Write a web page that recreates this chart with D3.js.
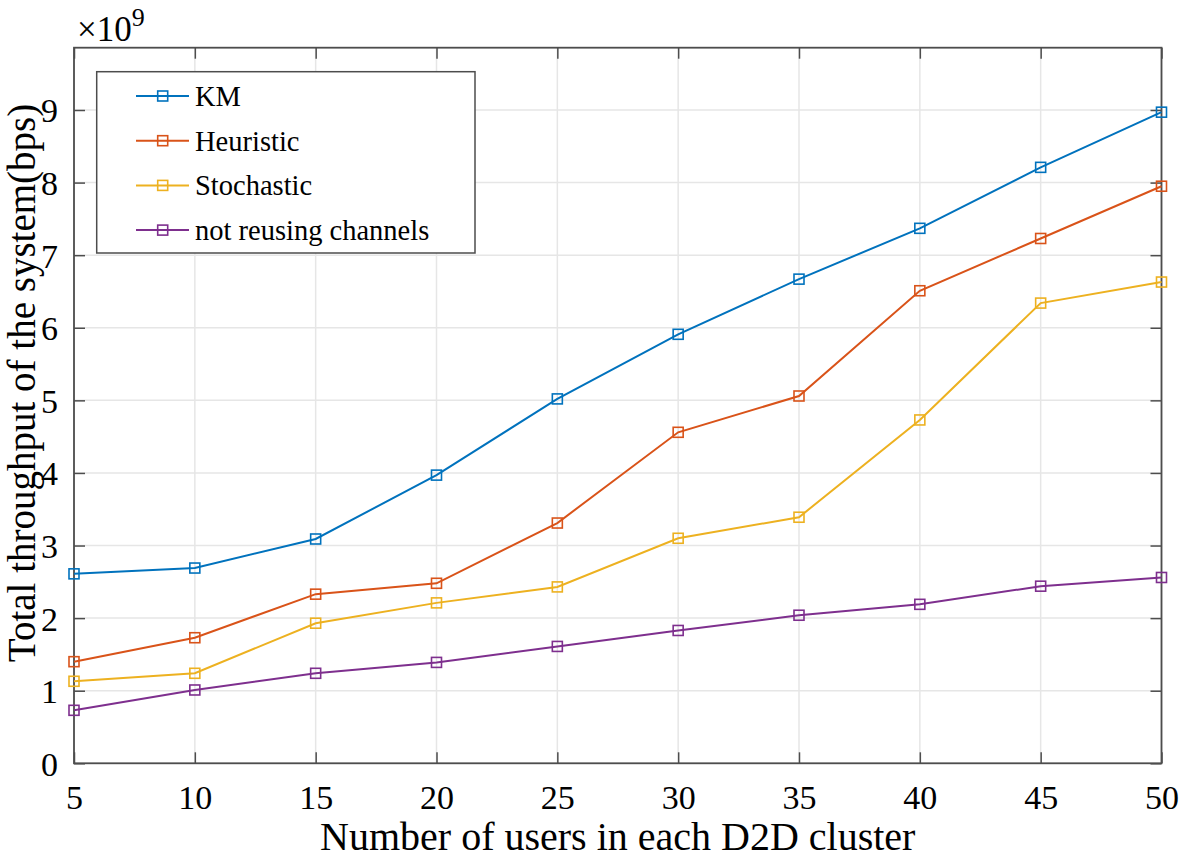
<!DOCTYPE html>
<html><head><meta charset="utf-8">
<script src="https://cdn.jsdelivr.net/npm/d3@7"></script>
<style>body{margin:0;background:#fff;} text{font-family:"Liberation Serif","Times New Roman",serif;fill:#000;}</style>
</head><body>
<svg id="c" width="1181" height="859"></svg>
<script>
const xValues = [5,10,15,20,25,30,35,40,45,50];
const kmValues = [2.61,2.69,3.09,3.97,5.02,5.91,6.67,7.37,8.21,8.97];
const heuristicValues = [1.40,1.73,2.33,2.48,3.31,4.56,5.06,6.51,7.23,7.95];
const stochasticValues = [1.13,1.24,1.93,2.21,2.43,3.10,3.39,4.73,6.34,6.63];
const notReusingValues = [0.73,1.01,1.24,1.39,1.61,1.83,2.04,2.19,2.44,2.56];
const seriesNames = ["KM","Heuristic","Stochastic","not reusing channels"];
const seriesColors = ["#0072BD","#D95319","#EDB120","#7E2F8E"];
const xTicks = [5,10,15,20,25,30,35,40,45,50];
const yTicks = [0,1,2,3,4,5,6,7,8,9];

const svg = d3.select("#c");
const FF = "Liberation Serif, Times New Roman, serif";
const L=74, R=1161.5, T=47.7, B=763.3;
const x = d3.scaleLinear().domain([5,50]).range([L,R]);
const y = d3.scaleLinear().domain([0,9]).range([B,110]);

// grid
const g = svg.append("g");
g.selectAll(".vg").data(xTicks).join("line").attr("x1",d=>x(d)).attr("x2",d=>x(d)).attr("y1",T).attr("y2",B).attr("stroke","#e6e6e6").attr("stroke-width",1.5);
g.selectAll(".hg").data(yTicks).join("line").attr("x1",L).attr("x2",R).attr("y1",d=>y(d)).attr("y2",d=>y(d)).attr("stroke","#e6e6e6").attr("stroke-width",1.5);

// axes with inward ticks
const axCol="#4d4d4d";
const xAxis = d3.axisBottom(x).tickValues(xTicks).tickSizeInner(-11).tickSizeOuter(0).tickPadding(22);
const yAxis = d3.axisLeft(y).tickValues(yTicks).tickSizeInner(-11).tickSizeOuter(0).tickPadding(16);
const gx = svg.append("g").attr("transform",`translate(0,${B})`).call(xAxis);
const gy = svg.append("g").attr("transform",`translate(${L},0)`).call(yAxis);
const gxt = svg.append("g").attr("transform",`translate(0,${T})`).call(d3.axisTop(x).tickValues(xTicks).tickSizeInner(-11).tickSizeOuter(0).tickFormat(""));
const gyr = svg.append("g").attr("transform",`translate(${R},0)`).call(d3.axisRight(y).tickValues(yTicks).tickSizeInner(-11).tickSizeOuter(0).tickFormat(""));
[gx,gy,gxt,gyr].forEach(a=>{a.attr("font-family",FF);a.select(".domain").remove();a.selectAll("line").attr("stroke",axCol).attr("stroke-width",1.5);});
gx.selectAll("text").attr("font-size",34).attr("dy","0.71em").attr("font-family",FF);
gy.selectAll("text").attr("font-size",34).attr("dy","0.35em").attr("font-family",FF);
svg.append("rect").attr("x",L).attr("y",T).attr("width",R-L).attr("height",B-T).attr("fill","none").attr("stroke",axCol).attr("stroke-width",1.8);

// series
const allValues=[kmValues,heuristicValues,stochasticValues,notReusingValues];
const line = d3.line().x((d,i)=>x(xValues[i])).y(d=>y(d));
const ms=10;
allValues.forEach((vals,k)=>{
  svg.append("path").datum(vals).attr("d",line).attr("fill","none").attr("stroke",seriesColors[k]).attr("stroke-width",2);
  svg.selectAll(null).data(vals).join("rect").attr("x",(d,i)=>x(xValues[i])-ms/2).attr("y",d=>y(d)-ms/2).attr("width",ms).attr("height",ms).attr("fill","none").attr("stroke",seriesColors[k]).attr("stroke-width",1.6);
});

// legend
const lg = svg.append("g");
lg.append("rect").attr("x",96.7).attr("y",71.7).attr("width",378.3).attr("height",181.3).attr("fill","#fff").attr("stroke",axCol).attr("stroke-width",1.5);
seriesNames.forEach((n,k)=>{
  const yy = 96 + k*44.7;
  lg.append("line").attr("x1",136).attr("x2",189).attr("y1",yy).attr("y2",yy).attr("stroke",seriesColors[k]).attr("stroke-width",2);
  lg.append("rect").attr("x",162.7-ms/2).attr("y",yy-ms/2).attr("width",ms).attr("height",ms).attr("fill","none").attr("stroke",seriesColors[k]).attr("stroke-width",1.6);
  lg.append("text").attr("x",195).attr("y",yy).attr("dy","0.35em").attr("font-size",28.5).attr("font-family",FF).text(n);
});

// labels
svg.append("text").attr("x",(L+R)/2).attr("y",850).attr("text-anchor","middle").attr("font-size",40).attr("font-family",FF).text("Number of users in each D2D cluster");
svg.append("text").attr("transform",`translate(35,383) rotate(-90)`).attr("text-anchor","middle").attr("font-size",39).attr("font-family",FF).text("Total throughput of the system(bps)");
const ex = svg.append("text").attr("x",77).attr("y",41).attr("font-size",35).attr("font-family",FF);
ex.append("tspan").text("×10");
ex.append("tspan").attr("dy",-15).attr("font-size",26).text("9");
</script>
</body></html>
